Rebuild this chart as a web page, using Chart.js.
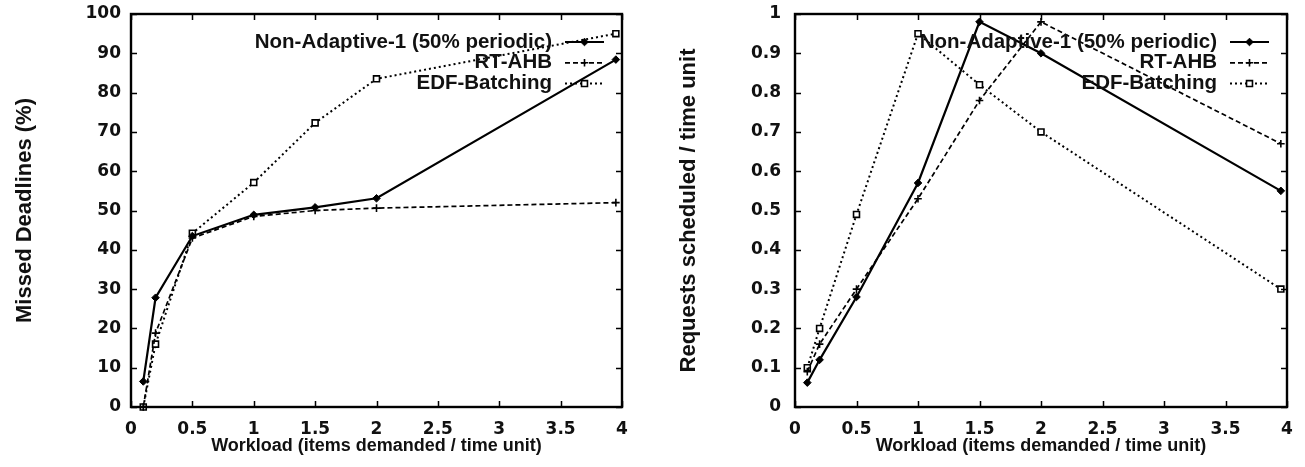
<!DOCTYPE html>
<html>
<head>
<meta charset="utf-8">
<script src="https://cdn.jsdelivr.net/npm/chart.js@4.4.1/dist/chart.umd.min.js"></script>
<style>
  html, body { margin: 0; padding: 0; background: #fff; }
  #wrap { position: relative; width: 1305px; height: 467px; overflow: hidden; }
  canvas { position: absolute; top: 0; }
  #missed { left: 0; }
  #sched { left: 652px; }
</style>
</head>
<body>
<div id="wrap">
  <canvas id="missed" width="652" height="467"></canvas>
  <canvas id="sched" width="653" height="467"></canvas>
</div>
<script>
// workload values (x) shared by both plots
const workload = [0.1, 0.2, 0.5, 1, 1.5, 2, 3.95];
const seriesNames = ['Non-Adaptive-1 (50% periodic)', 'RT-AHB', 'EDF-Batching'];

// left plot: missed deadlines (%)
const missedNonAdaptive = [6.5, 27.8, 43.5, 48.9, 50.8, 53.1, 88.4];
const missedRtAhb = [0, 18.8, 43, 48.5, 50, 50.6, 52];
const missedEdf = [0, 16, 44.2, 57.1, 72.3, 83.5, 95];

// right plot: requests scheduled / time unit
const schedNonAdaptive = [0.062, 0.12, 0.28, 0.57, 0.98, 0.90, 0.55];
const schedRtAhb = [0.09, 0.16, 0.30, 0.53, 0.78, 0.98, 0.67];
const schedEdf = [0.10, 0.20, 0.49, 0.95, 0.82, 0.70, 0.30];

const xTicks = [0, 0.5, 1, 1.5, 2, 2.5, 3, 3.5, 4];

const tickFont = { family: 'DejaVu Sans', weight: 'bold', size: 17 };
const titleFont = { family: 'Liberation Sans', weight: 'bold', size: 22 };
const xTitleFont = { family: 'Liberation Sans', weight: 'bold', size: 18 };
const legendFont = 'bold 20.5px "Liberation Sans"';

const styles = [
  { borderWidth: 2.2, borderDash: [], pointStyle: 'rectRot', pointRadius: 3.8, pointBackgroundColor: '#000', pointBorderWidth: 1 },
  { borderWidth: 1.7, borderDash: [5, 3], pointStyle: 'cross', pointRadius: 3.8, pointBackgroundColor: '#000', pointBorderWidth: 1.6 },
  { borderWidth: 2, borderDash: [2, 3], pointStyle: 'rect', pointRadius: 4.2, pointBackgroundColor: '#fff', pointBorderWidth: 1.6 }
];

const toPoints = (ys) => ys.map((y, i) => ({ x: workload[i], y }));

const makeDatasets = (lists) => lists.map((ys, i) => ({
  label: seriesNames[i],
  data: toPoints(ys),
  borderColor: '#000',
  pointBorderColor: '#000',
  tension: 0,
  clip: false,
  ...styles[i]
}));

// gnuplot style box with inward ticks on all four sides
const framePlugin = {
  id: 'frame',
  afterDatasetsDraw(chart) {
    const { ctx, chartArea: a, scales } = chart;
    ctx.save();
    ctx.strokeStyle = '#000';
    ctx.setLineDash([]);
    ctx.lineWidth = 1.5;
    const len = 6;
    scales.x.ticks.forEach(t => {
      const px = Math.round(scales.x.getPixelForValue(t.value)) + 0.5;
      ctx.beginPath();
      ctx.moveTo(px, a.bottom); ctx.lineTo(px, a.bottom - len);
      ctx.moveTo(px, a.top); ctx.lineTo(px, a.top + len);
      ctx.stroke();
    });
    scales.y.ticks.forEach(t => {
      const py = Math.round(scales.y.getPixelForValue(t.value)) + 0.5;
      ctx.beginPath();
      ctx.moveTo(a.left, py); ctx.lineTo(a.left + len, py);
      ctx.moveTo(a.right, py); ctx.lineTo(a.right - len, py);
      ctx.stroke();
    });
    ctx.lineWidth = 2.4;
    ctx.strokeRect(a.left, a.top, a.right - a.left, a.bottom - a.top);
    ctx.restore();
  }
};

// legend drawn inside the top right: text right aligned, line sample on its right
const keyPlugin = {
  id: 'key',
  afterDatasetsDraw(chart) {
    const { ctx, chartArea: a } = chart;
    ctx.save();
    ctx.font = legendFont;
    ctx.textAlign = 'right';
    ctx.textBaseline = 'middle';
    chart.data.datasets.forEach((ds, i) => {
      const y = a.top + 28 + i * 20.8;
      ctx.fillStyle = '#111';
      ctx.fillText(ds.label, a.right - 70, y);
      const x0 = a.right - 57, x1 = a.right - 18;
      ctx.strokeStyle = '#000';
      ctx.lineWidth = ds.borderWidth;
      ctx.setLineDash(ds.borderDash);
      ctx.beginPath();
      ctx.moveTo(x0, y); ctx.lineTo(x1, y);
      ctx.stroke();
      ctx.setLineDash([]);
      ctx.fillStyle = ds.pointBackgroundColor;
      ctx.lineWidth = ds.pointBorderWidth;
      Chart.helpers.drawPoint(ctx, {
        pointStyle: ds.pointStyle, radius: ds.pointRadius, rotation: 0, borderWidth: ds.pointBorderWidth
      }, (x0 + x1) / 2, y);
    });
    ctx.restore();
  }
};

function makeChart(id, lists, yMax, yStep, yTitle, yWidth, yTitlePad, yTickPad, padRight) {
  return new Chart(document.getElementById(id), {
    type: 'line',
    data: { datasets: makeDatasets(lists) },
    options: {
      responsive: false,
      animation: false,
      events: [],
      layout: { padding: { top: 14, right: padRight, bottom: 0, left: 0 } },
      plugins: { legend: { display: false }, tooltip: { enabled: false } },
      scales: {
        x: {
          type: 'linear',
          min: 0, max: 4,
          afterBuildTicks: (s) => { s.ticks = xTicks.map(v => ({ value: v })); },
          afterFit: (s) => { s.height = 60; },
          grid: { display: false, drawTicks: false },
          border: { display: false },
          ticks: { font: tickFont, color: '#111', padding: 12, maxRotation: 0, autoSkip: false,
                   callback: (v) => String(v) },
          title: { display: true, text: 'Workload (items demanded / time unit)', font: xTitleFont,
                   color: '#111', padding: { top: 0, bottom: 10 } }
        },
        y: {
          type: 'linear',
          min: 0, max: yMax,
          afterFit: (s) => { s.width = yWidth; s.paddingTop = 0; s.paddingBottom = 0; },
          grid: { display: false, drawTicks: false },
          border: { display: false },
          ticks: { stepSize: yStep, font: tickFont, color: '#111', padding: yTickPad,
                   callback: (v) => String(parseFloat(v.toFixed(2))) },
          title: { display: true, text: yTitle, font: titleFont, color: '#111',
                   padding: { top: yTitlePad, bottom: 0 } }
        }
      }
    },
    plugins: [framePlugin, keyPlugin]
  });
}

makeChart('missed', [missedNonAdaptive, missedRtAhb, missedEdf], 100, 10,
  'Missed Deadlines (%)', 131, 12, 10, 30);
makeChart('sched', [schedNonAdaptive, schedRtAhb, schedEdf], 1, 0.1,
  'Requests scheduled / time unit', 143, 24, 14, 18);
</script>
</body>
</html>
